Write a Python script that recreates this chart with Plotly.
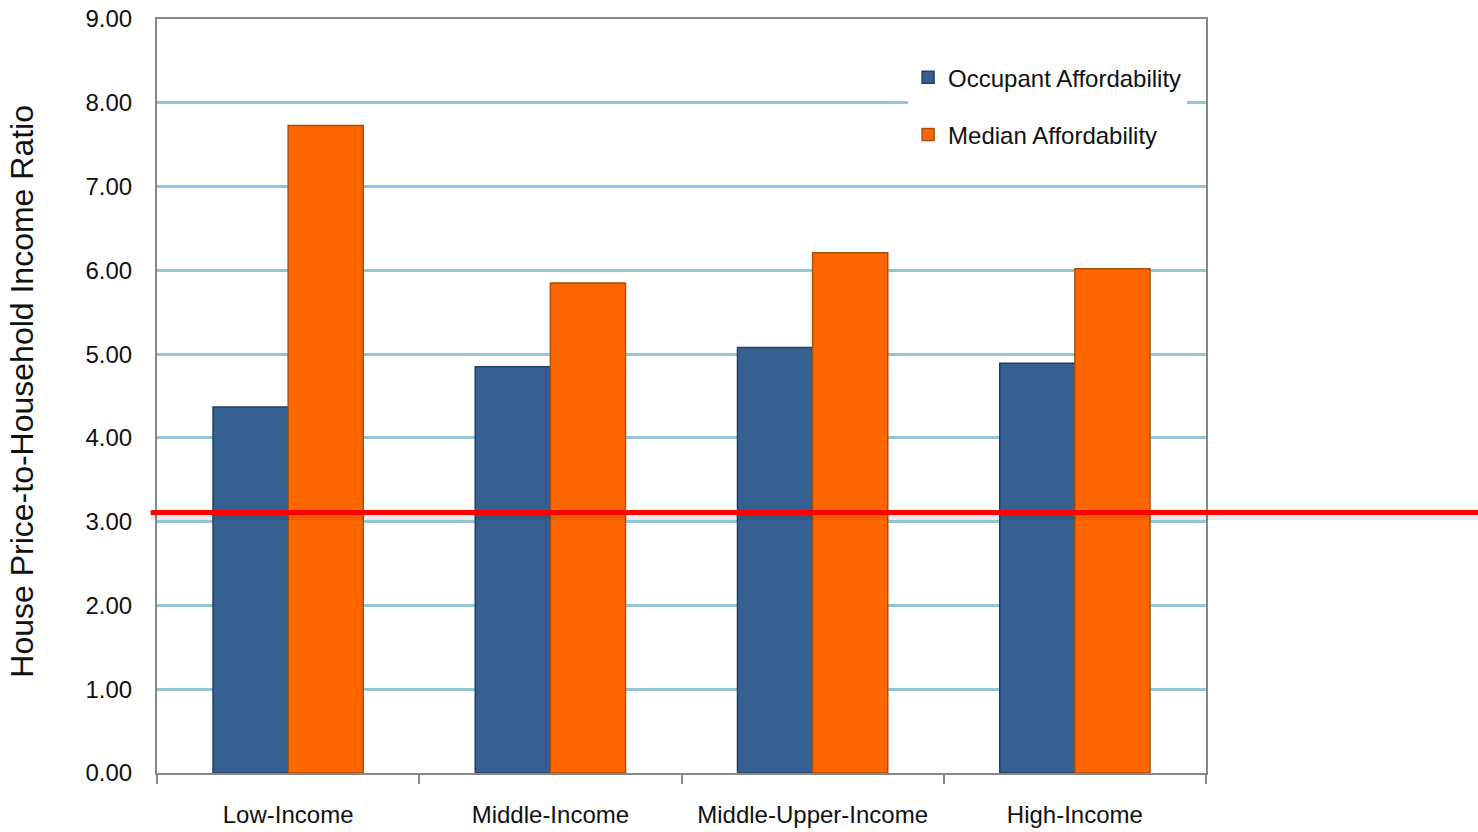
import plotly.graph_objects as go

# Income groups and house price-to-income ratios
categories = ["Low-Income", "Middle-Income", "Middle-Upper-Income", "High-Income"]
occupant_affordability = [4.37, 4.85, 5.08, 4.89]
median_affordability = [7.73, 5.85, 6.21, 6.02]
affordable_threshold = 3.11
y_ticks = [0, 1, 2, 3, 4, 5, 6, 7, 8, 9]

SANS = "Liberation Sans, Arial, sans-serif"
TEXT = "#111111"
AXIS_GREY = "#878787"
GRID_BLUE = "#93c6d5"

fig = go.Figure()
fig.add_trace(go.Bar(
    x=categories, y=occupant_affordability, name="Occupant Affordability",
    legendgroup="occ",
    marker=dict(color="#376092", line=dict(color="#243f66", width=1.5)),
))
fig.add_trace(go.Bar(
    x=categories, y=median_affordability, name="Median Affordability",
    legendgroup="med",
    marker=dict(color="#ff6600", line=dict(color="#a9520f", width=1.5)),
))

# threshold line with a soft drop shadow, running past the plot's right edge
fig.add_shape(type="line", xref="paper", yref="y", ysizemode="pixel",
              yanchor=affordable_threshold, x0=-0.006, x1=1.26, y0=-4, y1=-4,
              line=dict(color="rgba(0,0,0,0.08)", width=7), layer="above")
fig.add_shape(type="line", xref="paper", yref="y",
              x0=-0.006, x1=1.26, y0=affordable_threshold, y1=affordable_threshold,
              line=dict(color="#ff0000", width=5), layer="above")

fig.add_annotation(
    text="House Price-to-Household Income Ratio", textangle=-90,
    xref="paper", yref="paper", x=-0.1287, y=0.507,
    xanchor="center", yanchor="middle", showarrow=False,
    font=dict(family=SANS, size=32, color=TEXT),
)

fig.update_layout(
    width=1478, height=832,
    margin=dict(l=157, r=272, t=19, b=59),
    paper_bgcolor="white", plot_bgcolor="white",
    barmode="group", bargap=0.427, bargroupgap=0,
    font=dict(family=SANS, color=TEXT),
    showlegend=True,
    legend=dict(
        x=0.716, y=0.952, xanchor="left", yanchor="top",
        bgcolor="white", borderwidth=0,
        font=dict(family=SANS, size=24, color=TEXT),
        traceorder="grouped", tracegroupgap=23,
    ),
    xaxis=dict(
        showline=True, linecolor=AXIS_GREY, linewidth=2, mirror=True,
        ticks="outside", tickson="boundaries", ticklen=9,
        tickcolor=AXIS_GREY, tickwidth=2, tickangle=0, automargin=False,
        tickfont=dict(family=SANS, size=24, color=TEXT),
        ticklabelstandoff=19,
        showgrid=False,
    ),
    yaxis=dict(
        range=[0, 9], tickvals=y_ticks, tickformat=".2f",
        showline=True, linecolor=AXIS_GREY, linewidth=2, mirror=True,
        ticks="", showgrid=True, gridcolor=GRID_BLUE, gridwidth=3,
        zeroline=False, automargin=False,
        tickfont=dict(family=SANS, size=24, color=TEXT),
        ticklabelstandoff=18,
    ),
)

fig.write_html("out.html")
